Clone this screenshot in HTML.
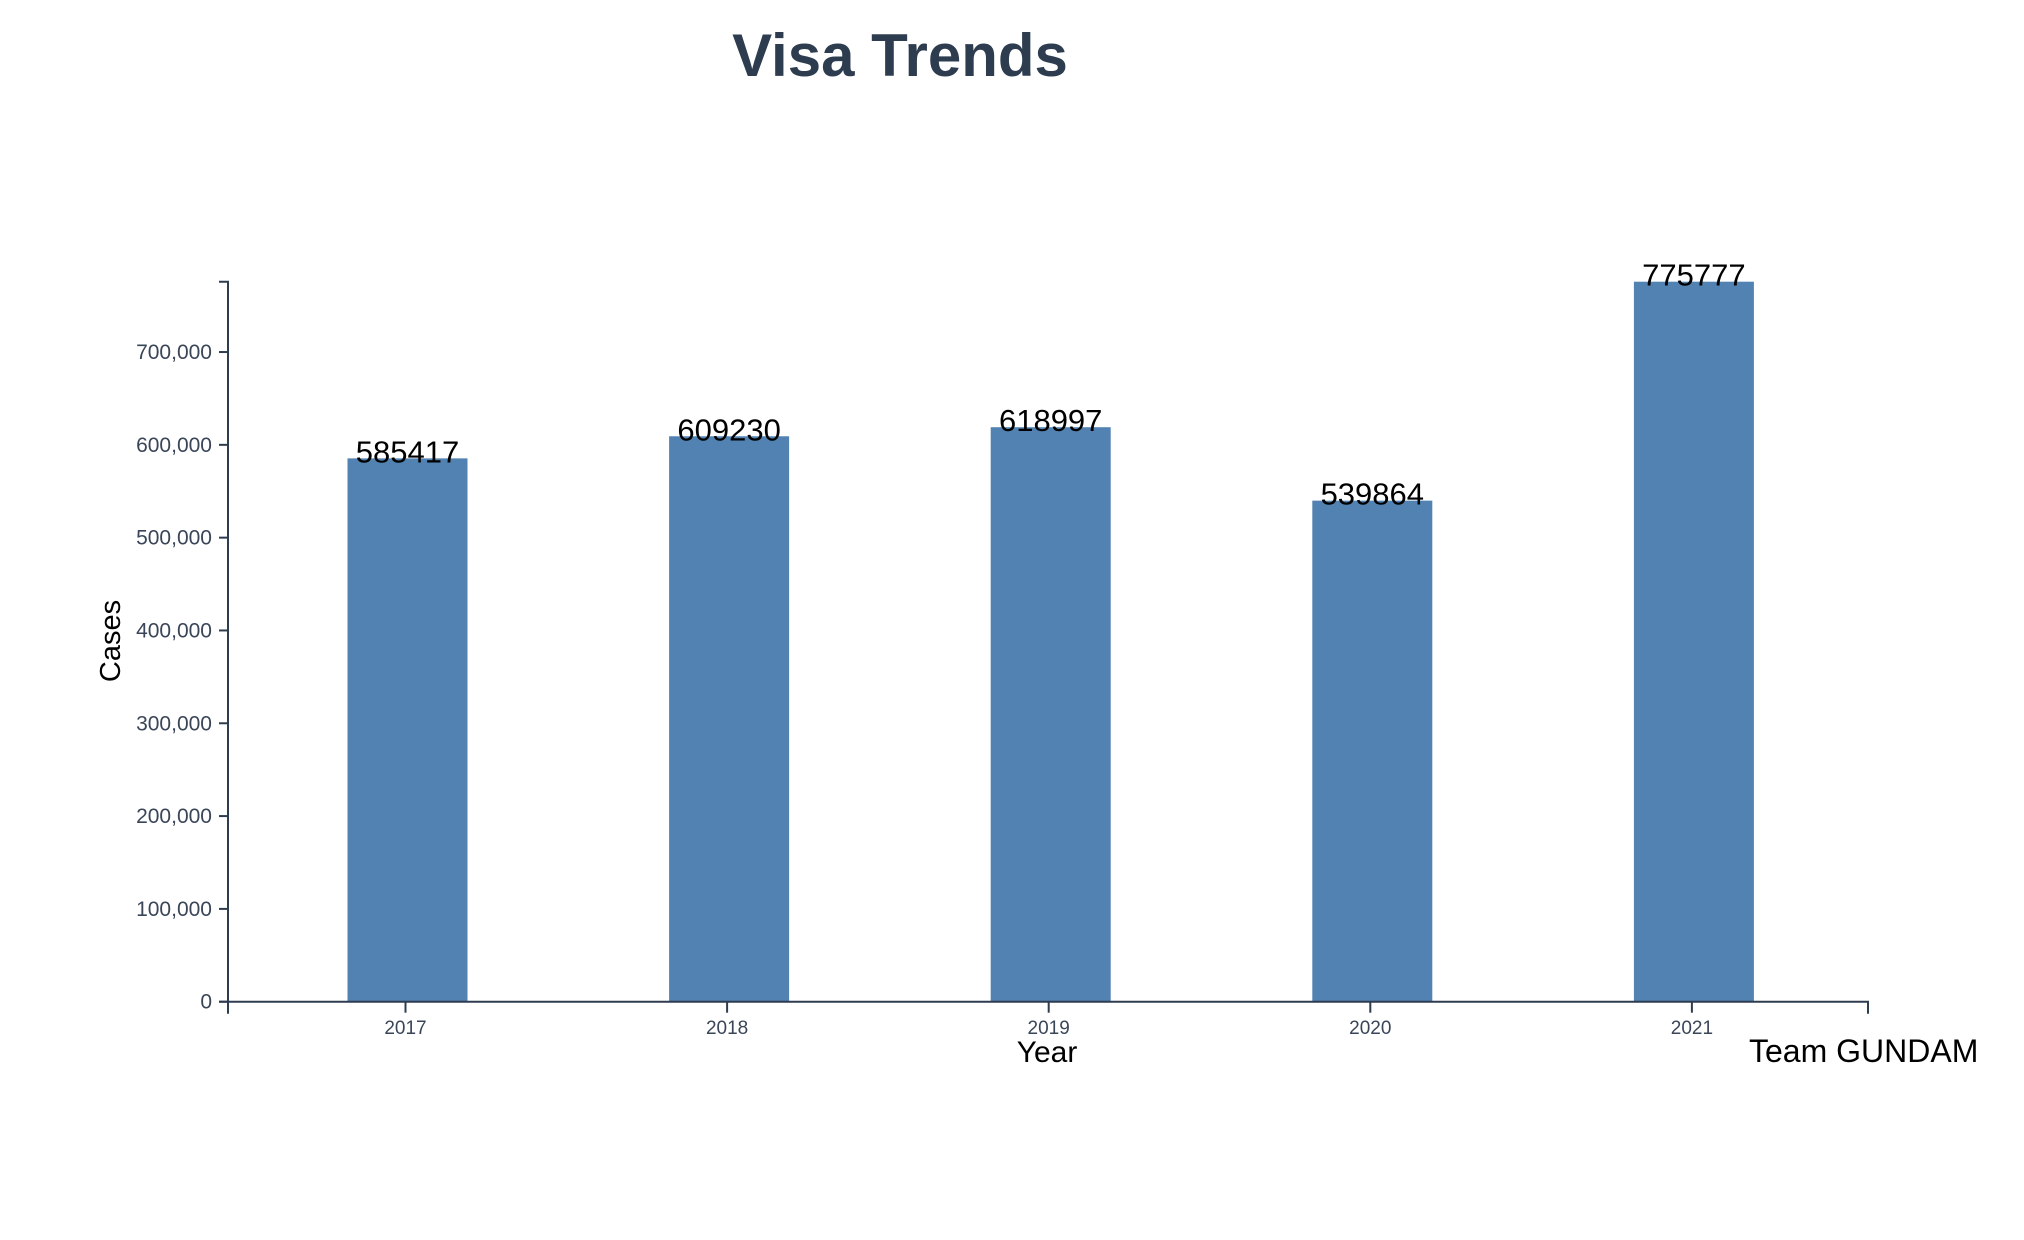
<!DOCTYPE html>
<html><head><meta charset="utf-8"><style>
html,body{margin:0;padding:0;background:#fff;}
svg{display:block;font-family:"Liberation Sans",sans-serif;}
</style></head><body>
<svg id="chart" width="2024" height="1240">
<text x="900" y="76" text-anchor="middle" font-size="60" font-weight="bold" fill="#2e3c50">Visa Trends</text>
<text transform="translate(120,641) rotate(-90)" text-anchor="middle" font-size="29" fill="#000">Cases</text>
<text x="1047" y="1062" text-anchor="middle" font-size="30" fill="#000">Year</text>
<text x="1749" y="1062" font-size="32" fill="#000">Team GUNDAM</text>
<g id="bars"></g><g id="yaxis"></g><g id="xaxis"></g><g id="labels"></g>
</svg>
<script>
const categories = ["2017","2018","2019","2020","2021"];
const values = [585417, 609230, 618997, 539864, 775777];
const yTicks = [0,100000,200000,300000,400000,500000,600000,700000];
const NS="http://www.w3.org/2000/svg";
const x0=228, x1=1868, yBase=1001.7, yTop=281.7;
const yMax=Math.max(...values);
function y(v){return yBase-(v/yMax)*(yBase-yTop);}
const step=321.6, firstCenter=407.5, barW=120;
function xc(i){return firstCenter+i*step;}
function mk(tag,attrs,parent){const e=document.createElementNS(NS,tag);for(const k in attrs)e.setAttribute(k,attrs[k]);parent.appendChild(e);return e;}
const bars=document.getElementById('bars'), ya=document.getElementById('yaxis'), xa=document.getElementById('xaxis'), lb=document.getElementById('labels');
values.forEach((v,i)=>{
  const r=mk('rect',{x:xc(i)-barW/2,y:y(v),width:barW,height:yBase-y(v),fill:'#5282b1'},bars);
  
  
  const t=mk('text',{x:xc(i),y:y(v)+4,'text-anchor':'middle','font-size':31,fill:'#000'},lb);
  t.textContent=String(v);
  
  
});
const yl=mk('path',{d:`M${x0-9},${yTop}H${x0}V${yBase}H${x0-9}`,stroke:'#2e3c50','stroke-width':2,fill:'none'},ya);


yTicks.forEach(v=>{
  const l=mk('line',{x1:x0-9,x2:x0,y1:y(v),y2:y(v),stroke:'#2e3c50','stroke-width':2},ya);
  
  
  const t=mk('text',{x:x0-16,y:y(v)+7,'text-anchor':'end','font-size':21,fill:'#3a4658'},ya);
  t.textContent=v.toLocaleString('en-US');
  
  
});
const xl=mk('path',{d:`M${x0},${yBase+12}V${yBase}H${x1}V${yBase+12}`,stroke:'#2e3c50','stroke-width':2,fill:'none'},xa);


categories.forEach((c,i)=>{
  const l=mk('line',{x1:xc(i)-2,x2:xc(i)-2,y1:yBase,y2:yBase+11,stroke:'#2e3c50','stroke-width':2},xa);
  
  
  const t=mk('text',{x:xc(i)-2,y:1034,'text-anchor':'middle','font-size':19,fill:'#3a4658'},xa);
  t.textContent=c;
  
  
});
</script>
</body></html>
